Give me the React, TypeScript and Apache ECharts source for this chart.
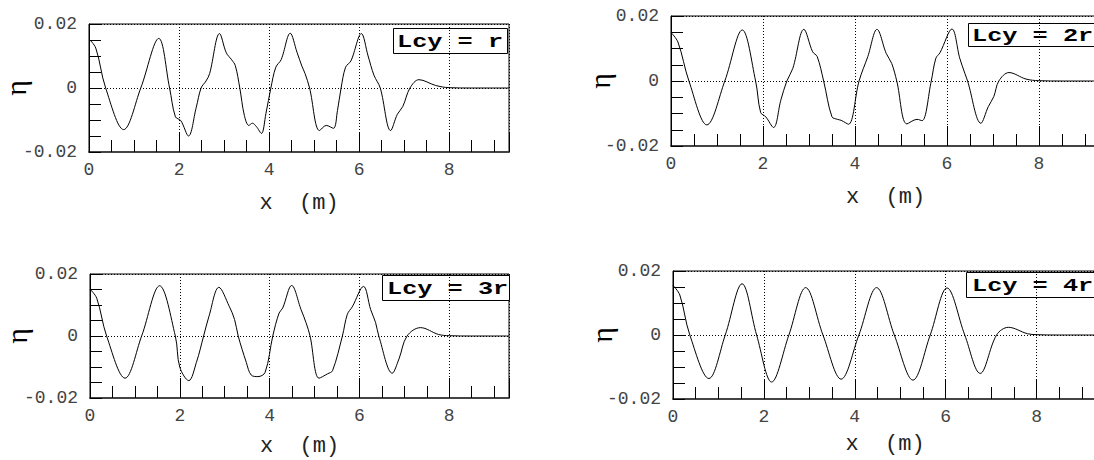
import React, { useEffect, useRef } from "react";
import * as echarts from "echarts";

// Free-surface elevation η (m) along the channel x (m) for four cylinder spacings.
const X_MAX = 9.33;

const legendLabels = ["Lcy = r", "Lcy = 2r", "Lcy = 3r", "Lcy = 4r"];

const etaLcyR: [number, number][] = [
  [0, 0.0153], [0.15, 0.0125], [0.37, 0], [0.77, -0.013], [1.15, 0], [1.55, 0.0155],
  [1.79, 0], [1.92, -0.009], [2.04, -0.0102], [2.21, -0.015], [2.38, -0.0062], [2.49, 0],
  [2.6, 0.0022], [2.68, 0.0045], [2.9, 0.017], [3.05, 0.011], [3.17, 0.0088], [3.25, 0.007],
  [3.35, 0], [3.45, -0.0085], [3.55, -0.0117], [3.63, -0.011], [3.72, -0.0121], [3.83, -0.0142],
  [3.93, -0.008], [4.04, 0], [4.15, 0.0065], [4.27, 0.0089], [4.47, 0.0171], [4.62, 0.0112],
  [4.73, 0.0068], [4.8, 0.0045], [4.9, 0], [5.12, -0.0133], [5.27, -0.0117], [5.43, -0.0126],
  [5.52, -0.007], [5.6, 0], [5.7, 0.0065], [5.82, 0.0085], [6.05, 0.017], [6.2, 0.01],
  [6.33, 0.004], [6.47, 0], [6.7, -0.0133], [6.85, -0.0082], [6.97, -0.0058], [7.13, 0],
  [7.33, 0.0026], [7.7, 0.0008], [8.0, 0.0001], [8.5, 0], [9.33, 0],
];

const etaLcy2R: [number, number][] = [
  [0, 0.0149], [0.15, 0.012], [0.39, 0], [0.78, -0.0135], [1.17, 0], [1.55, 0.0157],
  [1.84, 0], [1.95, -0.0097], [2.06, -0.011], [2.23, -0.0143], [2.39, -0.0058], [2.52, 0],
  [2.65, 0.0039], [2.89, 0.0159], [3.08, 0.009], [3.18, 0.0075], [3.32, 0], [3.5, -0.011],
  [3.62, -0.0118], [3.7, -0.0121], [3.86, -0.0133], [4.09, 0], [4.28, 0.0075], [4.48, 0.0159],
  [4.68, 0.0085], [4.8, 0.0054], [4.91, 0], [5.13, -0.0132], [5.35, -0.0118], [5.46, -0.0122],
  [5.66, 0], [5.76, 0.007], [5.85, 0.0087], [6.11, 0.016], [6.28, 0.007], [6.39, 0.0024],
  [6.45, 0], [6.74, -0.013], [6.9, -0.0079], [7.02, -0.0048], [7.13, 0], [7.35, 0.0026],
  [7.72, 0.0006], [8.0, 0.0001], [8.5, 0], [9.33, 0],
];

const etaLcy3R: [number, number][] = [
  [0, 0.0151], [0.15, 0.0122], [0.37, 0], [0.78, -0.0136], [1.15, 0], [1.55, 0.0162],
  [1.9, 0], [2.0, -0.0101], [2.2, -0.0144], [2.37, -0.0085], [2.53, 0], [2.65, 0.0064],
  [2.87, 0.0157], [3.1, 0.0096], [3.22, 0.0053], [3.3, 0], [3.48, -0.0085], [3.59, -0.0126],
  [3.74, -0.0131], [3.9, -0.0117], [4.07, 0], [4.21, 0.0074], [4.29, 0.009], [4.49, 0.0163],
  [4.7, 0.0085], [4.81, 0.0043], [4.9, 0], [5.1, -0.0136], [5.29, -0.0122], [5.4, -0.0112],
  [5.62, 0], [5.73, 0.007], [5.84, 0.0094], [6.09, 0.016], [6.25, 0.0085], [6.36, 0.0043],
  [6.43, 0], [6.73, -0.012], [6.88, -0.0074], [7.06, 0], [7.36, 0.0027], [7.76, 0.0005],
  [8.0, 0.0001], [8.5, 0], [9.33, 0],
];

const etaLcy4R: [number, number][] = [
  [0, 0.0155], [0.15, 0.0125], [0.37, 0], [0.79, -0.0136], [1.15, 0], [1.52, 0.016],
  [1.84, 0], [2.17, -0.0147], [2.55, 0], [2.92, 0.0148], [3.3, 0], [3.7, -0.0138],
  [4.09, 0], [4.48, 0.0148], [4.87, 0], [5.28, -0.0141], [5.66, 0], [6.03, 0.0147],
  [6.42, 0], [6.76, -0.012], [7.12, 0], [7.38, 0.0024], [7.8, 0.0004], [8.0, 0.0001],
  [8.5, 0], [9.33, 0],
];

const seriesData = [etaLcyR, etaLcy2R, etaLcy3R, etaLcy4R];

// Panel layout in page pixels
const panels = [
  { left: 89, top: 24, width: 420, height: 128, etaGap: 59, xGap: 40, box: { x: 393, y: 28, w: 114, h: 25 }, textX: 397 },
  { left: 671, top: 16, width: 429, height: 130, etaGap: 57, xGap: 40, box: { x: 968, y: 23, w: 140, h: 23 }, textX: 972 },
  { left: 90, top: 274, width: 419, height: 124, etaGap: 59, xGap: 37, box: { x: 382, y: 275, w: 127, h: 25 }, textX: 387 },
  { left: 673, top: 271, width: 424, height: 128, etaGap: 57, xGap: 34, box: { x: 966, y: 272, w: 140, h: 25 }, textX: 972 },
];

const MONO = "'Liberation Mono', 'DejaVu Sans Mono', monospace";
const DOTS = [1, 2];

export default function App() {
  const ref = useRef<HTMLDivElement>(null);

  useEffect(() => {
    if (!ref.current) return;
    const chart = echarts.init(ref.current, undefined, { renderer: "svg" });

    const grid = panels.map((p) => ({
      left: p.left,
      top: p.top,
      width: p.width,
      height: p.height,
      containLabel: false,
      outerBoundsMode: "none",
      show: true,
      borderColor: "#000",
      borderWidth: 1,
      backgroundColor: "transparent",
    }));

    const xAxis: any[] = [];
    const yAxis: any[] = [];
    panels.forEach((p, i) => {
      // major axis: labels, long ticks every 2 m, dotted grid lines
      xAxis.push({
        gridIndex: i,
        type: "value",
        min: 0,
        max: X_MAX,
        interval: 2,
        axisLine: { show: true, onZero: false, lineStyle: { color: "#444", width: 2 } },
        axisTick: { show: true, inside: true, length: 20, lineStyle: { color: "#000", width: 1 } },
        splitLine: { show: true, lineStyle: { color: "#000", type: DOTS, width: 1 } },
        axisLabel: {
          fontFamily: MONO,
          fontSize: 18,
          color: "#444",
          margin: 9,
          formatter: (v: number) => (Math.abs(v / 2 - Math.round(v / 2)) < 1e-6 ? String(v) : ""),
        },
        name: "x  (m)",
        nameLocation: "middle",
        nameGap: p.xGap,
        nameMoveOverlap: false,
        nameTextStyle: { fontFamily: MONO, fontSize: 22, color: "#222" },
      });
      // minor ticks every 0.5 m
      xAxis.push({
        gridIndex: i,
        type: "value",
        min: 0,
        max: X_MAX,
        interval: 0.5,
        position: "bottom",
        axisLine: { show: false, onZero: false },
        axisTick: { show: true, inside: true, length: 12, lineStyle: { color: "#000", width: 1 } },
        splitLine: { show: false },
        axisLabel: { show: false },
      });
      yAxis.push({
        gridIndex: i,
        type: "value",
        min: -0.02,
        max: 0.02,
        interval: 0.02,
        axisLine: { show: true, onZero: false, lineStyle: { color: "#000", width: 1 } },
        axisTick: { show: true, inside: true, length: 12, lineStyle: { color: "#000" } },
        minorTick: { show: true, splitNumber: 4, length: 12, lineStyle: { color: "#000" } },
        splitLine: { show: true, lineStyle: { color: "#000", type: DOTS, width: 1 } },
        axisLabel: {
          fontFamily: MONO,
          fontSize: 18,
          color: "#444",
          margin: 12,
          formatter: (v: number) => (v === 0 ? "0" : v.toFixed(2)),
        },
        name: "η",
        nameLocation: "middle",
        nameRotate: 90,
        nameGap: p.etaGap,
        nameMoveOverlap: false,
        nameTextStyle: { fontFamily: "'Liberation Serif', serif", fontSize: 30, color: "#000" },
      });
    });

    const series = seriesData.map((d, i) => ({
      type: "line",
      xAxisIndex: i * 2,
      yAxisIndex: i,
      data: d,
      showSymbol: false,
      smooth: 0.35,
      lineStyle: { color: "#000", width: 1 },
      z: 3,
    }));

    const graphic = panels.map((p, i) => ({
      type: "group",
      z: 10,
      children: [
        {
          type: "rect",
          shape: { x: p.box.x + 0.5, y: p.box.y + 0.5, width: p.box.w, height: p.box.h },
          style: { fill: "#fff", stroke: "#000", lineWidth: 1 },
        },
        {
          type: "text",
          x: p.textX,
          y: p.box.y + p.box.h / 2 + 1,
          scaleX: 1.33,
          style: {
            text: legendLabels[i],
            font: `bold 19px ${MONO}`,
            fill: "#000",
            textAlign: "left",
            textVerticalAlign: "middle",
          },
        },
      ],
    }));

    chart.setOption({
      animation: false,
      backgroundColor: "#fff",
      grid,
      xAxis,
      yAxis,
      series,
      graphic,
    });

    return () => chart.dispose();
  }, []);

  return (
    <div
      ref={ref}
      style={{ position: "absolute", left: 0, top: 0, width: 1094, height: 460 }}
    />
  );
}
